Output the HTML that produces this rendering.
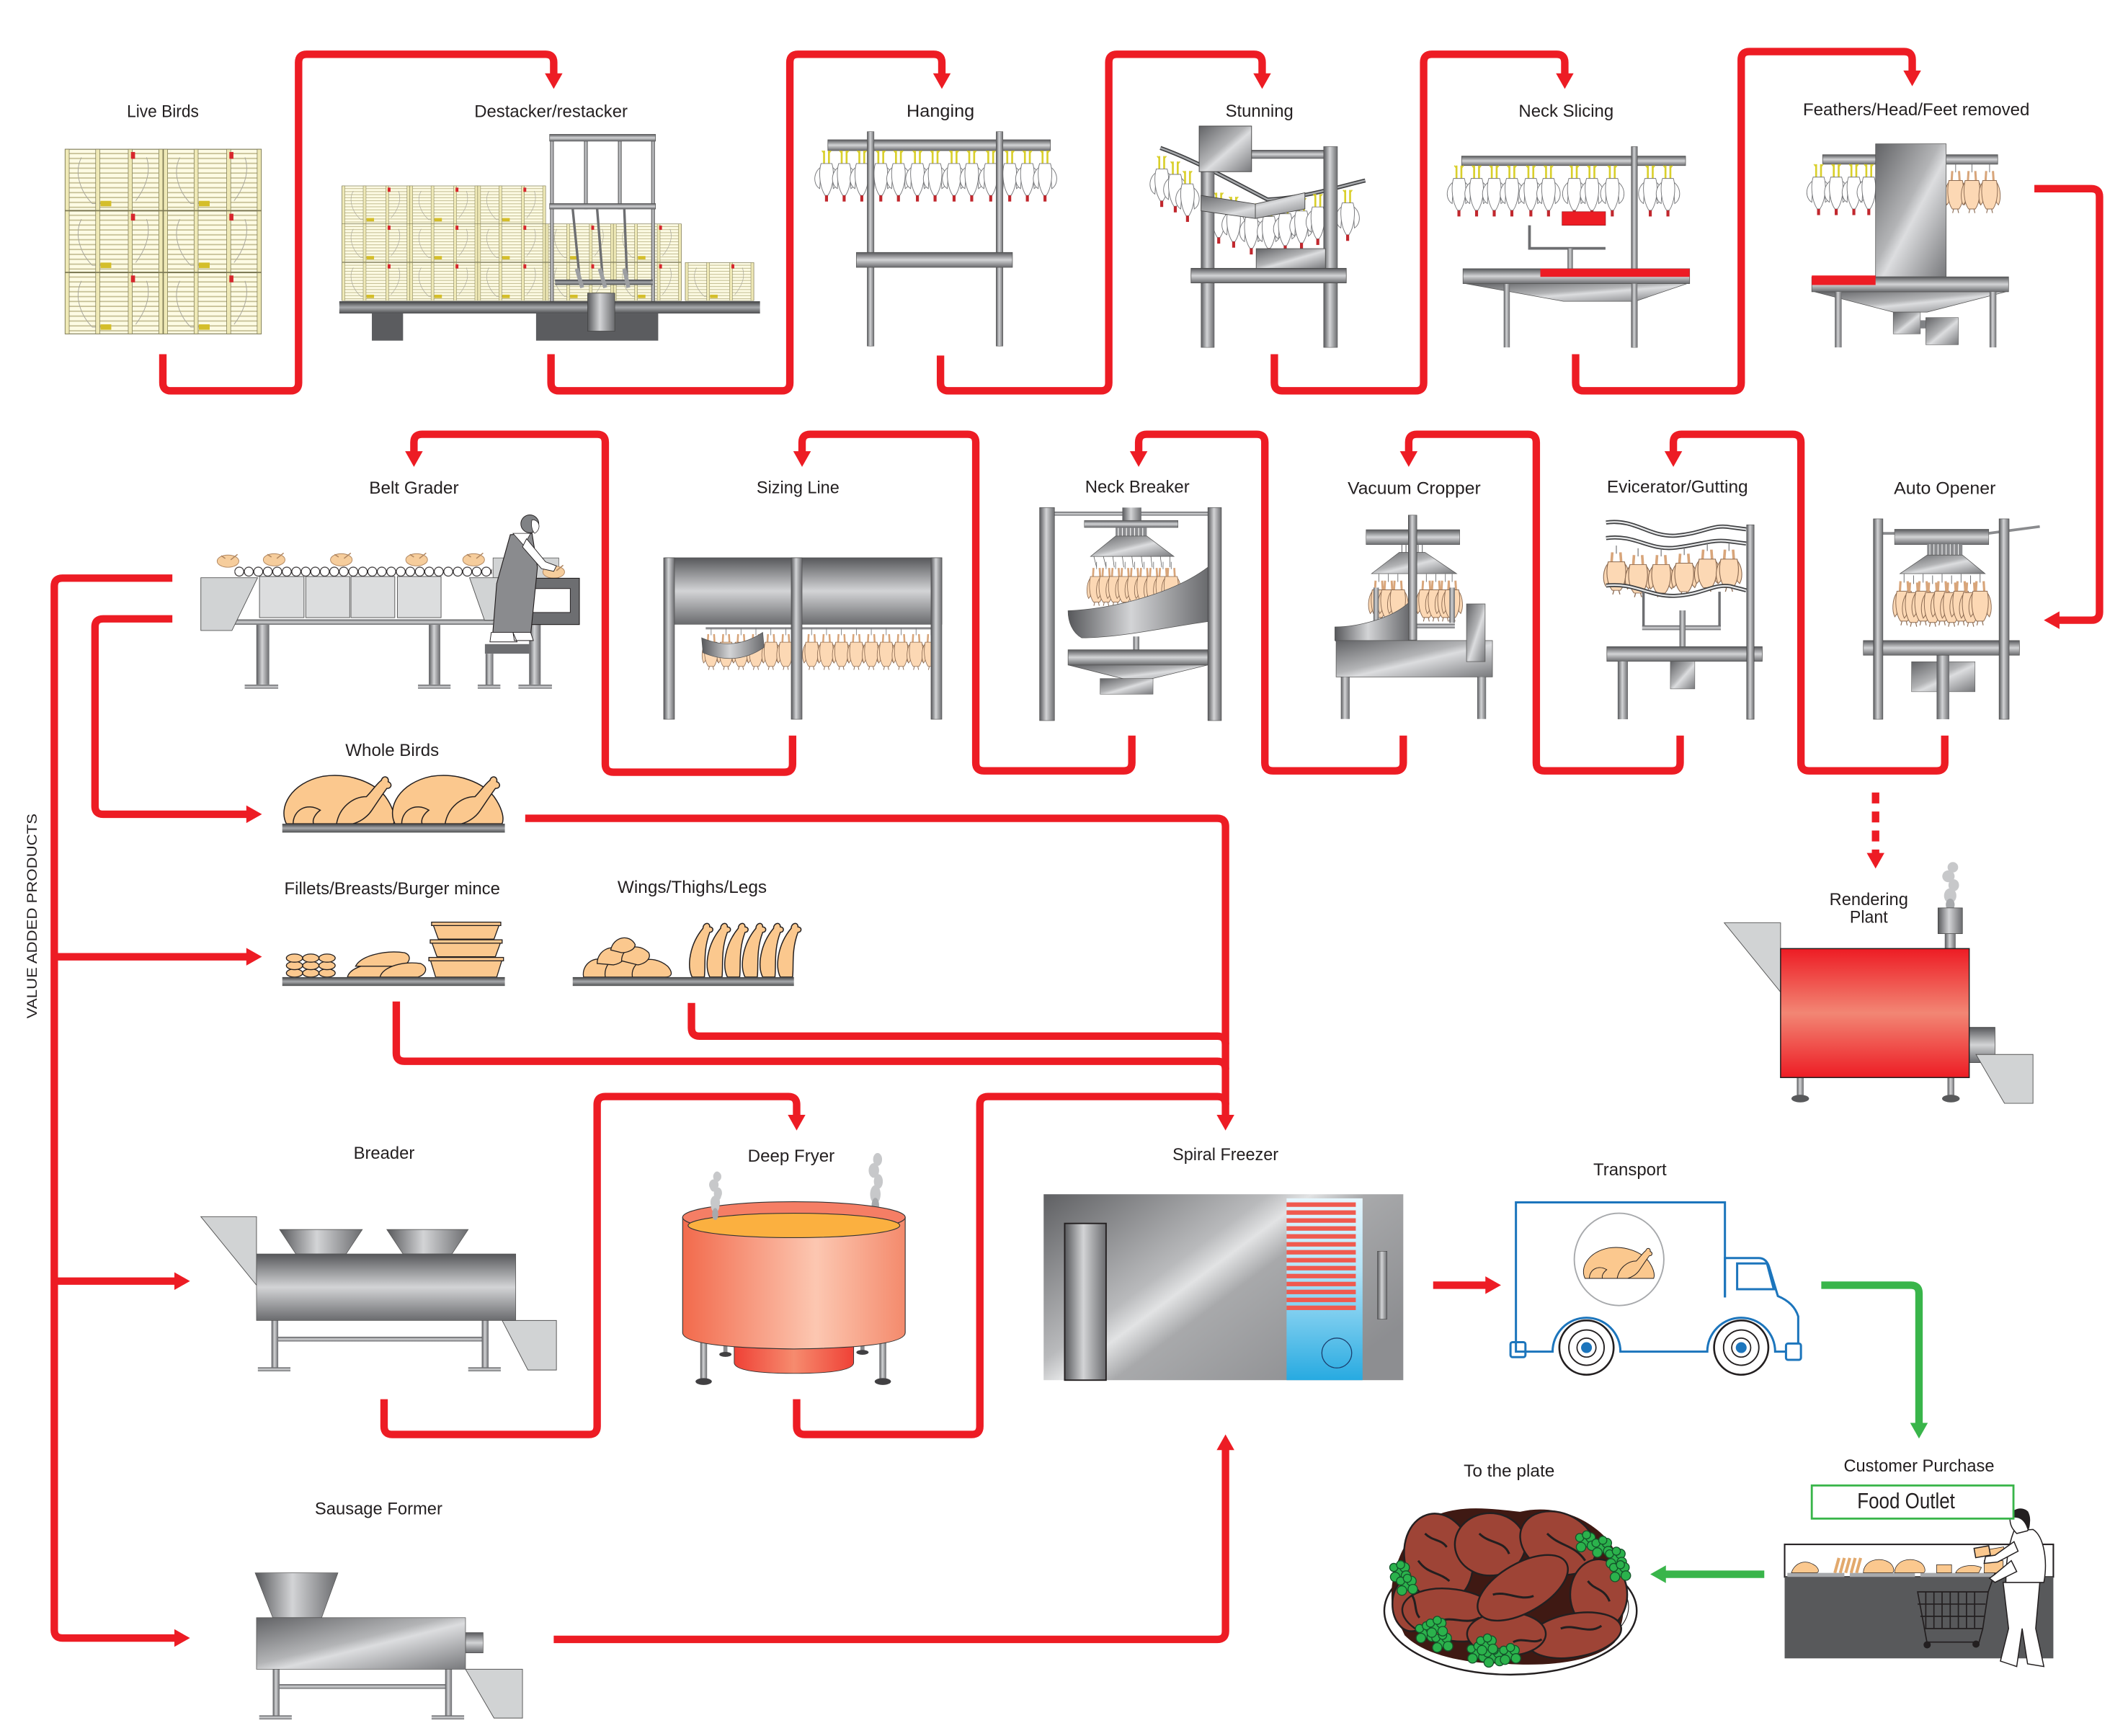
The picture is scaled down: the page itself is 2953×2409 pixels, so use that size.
<!DOCTYPE html>
<html><head><meta charset="utf-8"><style>
html,body{margin:0;padding:0;background:#fff;}
svg{display:block;}
text{font-family:"Liberation Sans",Arial,sans-serif;fill:#231f20;}
</style></head><body>
<svg xmlns="http://www.w3.org/2000/svg" width="2953" height="2409" viewBox="0 0 1568 1279.2" preserveAspectRatio="none">
<defs>
<linearGradient id="gV" x1="0" y1="0" x2="0" y2="1"><stop offset="0" stop-color="#57585b"/><stop offset=".5" stop-color="#d3d4d6"/><stop offset="1" stop-color="#6a6b6e"/></linearGradient>
<linearGradient id="gVd" x1="0" y1="0" x2="0" y2="1"><stop offset="0" stop-color="#3e3f41"/><stop offset=".5" stop-color="#a7a9ac"/><stop offset="1" stop-color="#4d4e50"/></linearGradient>
<linearGradient id="gH" x1="0" y1="0" x2="1" y2="0"><stop offset="0" stop-color="#57585b"/><stop offset=".45" stop-color="#d3d4d6"/><stop offset="1" stop-color="#6a6b6e"/></linearGradient>
<linearGradient id="gD" x1="0" y1="0" x2="1" y2="1"><stop offset="0" stop-color="#626366"/><stop offset=".45" stop-color="#b3b4b6"/><stop offset=".55" stop-color="#dcdddf"/><stop offset="1" stop-color="#78797c"/></linearGradient>
<linearGradient id="gF" x1="0" y1="0" x2="1" y2=".7"><stop offset="0" stop-color="#5f6063"/><stop offset=".42" stop-color="#b9babc"/><stop offset=".5" stop-color="#e2e3e4"/><stop offset=".6" stop-color="#a8a9ab"/><stop offset="1" stop-color="#8d8e91"/></linearGradient>
<linearGradient id="gRed" x1="0" y1="0" x2="0" y2="1"><stop offset="0" stop-color="#ed1c24"/><stop offset=".5" stop-color="#f28674"/><stop offset="1" stop-color="#ed1c24"/></linearGradient>
<linearGradient id="gFry" x1="0" y1="0" x2="1" y2="0"><stop offset="0" stop-color="#f26a4c"/><stop offset=".6" stop-color="#fcc7b1"/><stop offset="1" stop-color="#f48a6c"/></linearGradient>
<linearGradient id="gBowl" x1="0" y1="0" x2="1" y2="0"><stop offset="0" stop-color="#ef4136"/><stop offset=".5" stop-color="#f68b6e"/><stop offset="1" stop-color="#ef4136"/></linearGradient>
<linearGradient id="gBlue" x1="0" y1="0" x2="0" y2="1"><stop offset="0" stop-color="#e6f6fd"/><stop offset=".4" stop-color="#b3e4f8"/><stop offset="1" stop-color="#27aae1"/></linearGradient>
<pattern id="slat" patternUnits="userSpaceOnUse" width="72" height="3.6"><rect width="72" height="3.6" fill="#fdfbe4"/><rect y="2.7" width="72" height=".9" fill="#c4be93"/></pattern>
<pattern id="roll" patternUnits="userSpaceOnUse" x="172.8" y="417" width="7" height="9"><circle cx="3.5" cy="4.2" r="3.3" fill="#fff" stroke="#231f20" stroke-width=".6"/></pattern>

<g id="crate">
<rect width="72" height="45" fill="url(#slat)" stroke="#7d7a55" stroke-width=".6"/>
<path d="M12,6 C6,18 12,32 20,40 L27,40 M60,6 C64,18 58,30 52,38" fill="none" stroke="#a7a59a" stroke-width=".5"/>
<rect x="0" width="3" height="45" fill="#efe9b6" stroke="#7d7a55" stroke-width=".4"/>
<rect x="22.5" width="3" height="45" fill="#efe9b6" stroke="#7d7a55" stroke-width=".4"/>
<rect x="46.5" width="3" height="45" fill="#efe9b6" stroke="#7d7a55" stroke-width=".4"/>
<rect x="69" width="3" height="45" fill="#efe9b6" stroke="#7d7a55" stroke-width=".4"/>
<rect x="48.5" y="2" width="3" height="5" fill="#d7262d"/>
<rect x="26" y="38" width="8" height="4" fill="#d4be2a"/>
</g>

<g id="wc">
<path d="M-1.8,0V10M1.8,0V10" stroke="#d9cf2b" stroke-width="1.4"/>
<path d="M-1.8,2l-1.6,-2M1.8,2l1.6,-2" stroke="#d9cf2b" stroke-width=".8"/>
<path d="M-4,12 C-10,16 -10,25 -5,28 C-4.5,22 -4.5,17 -4,12Z M4,12 C10,16 10,25 5,28 C4.5,22 4.5,17 4,12Z" fill="#fff" stroke="#77787b" stroke-width=".5"/>
<path d="M-4,9.5 C-6,16 -5,27 -1,33 H1 C5,27 6,16 4,9.5Z" fill="#fff" stroke="#77787b" stroke-width=".5"/>
<rect x="-1.1" y="33" width="2.2" height="4.5" fill="#c1272d"/>
</g>

<g id="pc">
<path d="M0,0V6" stroke="#6d6e71" stroke-width=".5"/>
<path d="M-2.5,5 L-3,13 M2.5,5 L3,13" stroke="#d8a57a" stroke-width="1.6"/>
<path d="M-5,13 C-8.5,18 -8.5,26 -6.5,30 L-5,28Z M5,13 C8.5,18 8.5,26 6.5,30 L5,28Z" fill="#fcd8b4" stroke="#8c6b52" stroke-width=".5"/>
<path d="M-5,12 C-6.5,19 -6,28 -2.5,33 H2.5 C6,28 6.5,19 5,12Z" fill="#fcd8b4" stroke="#8c6b52" stroke-width=".5"/>
<path d="M-1.5,33 L-2.2,36 M1.5,33 L2.2,36" stroke="#8c6b52" stroke-width=".6"/>
</g>

<g id="mc">
<ellipse cx="0" cy="0" rx="8" ry="4.5" fill="#f6cd9c" stroke="#b08660" stroke-width=".5"/>
<path d="M2,-1 L7,-5 M-2,-2 L-5,-4" stroke="#b08660" stroke-width=".8"/>
</g>

<g id="rc" stroke="#231f20" stroke-width=".8" fill="#fbc88e">
<path d="M3,0 C-3,-12 6,-30 30,-35 C50,-38 68,-30 76,-20 C81,-13 84,-5 82,0Z"/>
<path d="M8,0 C8,-10 18,-16 28,-10 C24,-7 22,-3 23,0Z"/>
<path d="M40,0 C42,-12 52,-20 62,-20 C66,-24 70,-30 73,-32 C74,-36 79,-35 78,-31 C81,-30 81,-26 77,-26 C74,-22 70,-16 66,-10 C62,-4 56,-1 52,0Z"/>
</g>

<g id="dk"><path d="M0,0 C-4,-8 -2,-24 8,-36 C8,-40 13,-41 13,-37 C16,-37 16,-33 13,-33 C8,-20 10,-8 9,0Z" fill="#fbc88e" stroke="#231f20" stroke-width=".8"/></g>

<g id="smoke" fill="#c7c8ca">
<ellipse cx="0" cy="0" rx="3.5" ry="5"/><ellipse cx="2" cy="-7" rx="3" ry="4"/><ellipse cx="-1" cy="-13" rx="3.5" ry="4"/><ellipse cx="1.5" cy="-19" rx="3" ry="3.5"/><ellipse cx="0" cy="6" rx="2.5" ry="4" fill="#a7a9ac"/>
</g>

<g id="parsley" fill="#2bb24c" stroke="#14532a" stroke-width=".7">
<circle cx="0" cy="0" r="4"/><circle cx="4" cy="-3" r="3.5"/><circle cx="5" cy="3" r="3.5"/><circle cx="-3" cy="4" r="3.5"/><circle cx="-4" cy="-3" r="3"/><circle cx="1" cy="-5" r="3"/>
</g>
</defs>

<rect width="1568" height="1279.2" fill="#fff"/>

<!-- ============ LABELS ============ -->
<g font-size="12.8">
<text x="120" y="86.4" text-anchor="middle" textLength="53" lengthAdjust="spacingAndGlyphs">Live Birds</text>
<text x="406" y="86.4" text-anchor="middle" textLength="113" lengthAdjust="spacingAndGlyphs">Destacker/restacker</text>
<text x="693" y="86" text-anchor="middle" textLength="50" lengthAdjust="spacingAndGlyphs">Hanging</text>
<text x="928" y="86" text-anchor="middle" textLength="50" lengthAdjust="spacingAndGlyphs">Stunning</text>
<text x="1154" y="86" text-anchor="middle" textLength="70" lengthAdjust="spacingAndGlyphs">Neck Slicing</text>
<text x="1412" y="85" text-anchor="middle" textLength="167" lengthAdjust="spacingAndGlyphs">Feathers/Head/Feet removed</text>
<text x="305" y="363.8" text-anchor="middle" textLength="66" lengthAdjust="spacingAndGlyphs">Belt Grader</text>
<text x="588" y="363.5" text-anchor="middle" textLength="61" lengthAdjust="spacingAndGlyphs">Sizing Line</text>
<text x="838" y="363" text-anchor="middle" textLength="77" lengthAdjust="spacingAndGlyphs">Neck Breaker</text>
<text x="1042" y="364" text-anchor="middle" textLength="98" lengthAdjust="spacingAndGlyphs">Vacuum Cropper</text>
<text x="1236" y="363" text-anchor="middle" textLength="104" lengthAdjust="spacingAndGlyphs">Evicerator/Gutting</text>
<text x="1433" y="364" text-anchor="middle" textLength="75" lengthAdjust="spacingAndGlyphs">Auto Opener</text>
<text x="289" y="557" text-anchor="middle" textLength="69" lengthAdjust="spacingAndGlyphs">Whole Birds</text>
<text x="289" y="659" text-anchor="middle" textLength="159" lengthAdjust="spacingAndGlyphs">Fillets/Breasts/Burger mince</text>
<text x="510" y="658" text-anchor="middle" textLength="110" lengthAdjust="spacingAndGlyphs">Wings/Thighs/Legs</text>
<text x="1377" y="667" text-anchor="middle" textLength="58" lengthAdjust="spacingAndGlyphs">Rendering</text>
<text x="1377" y="680" text-anchor="middle" textLength="28" lengthAdjust="spacingAndGlyphs">Plant</text>
<text x="283" y="854" text-anchor="middle" textLength="45" lengthAdjust="spacingAndGlyphs">Breader</text>
<text x="583" y="856" text-anchor="middle" textLength="64" lengthAdjust="spacingAndGlyphs">Deep Fryer</text>
<text x="903" y="855" text-anchor="middle" textLength="78" lengthAdjust="spacingAndGlyphs">Spiral Freezer</text>
<text x="1201" y="866" text-anchor="middle" textLength="54" lengthAdjust="spacingAndGlyphs">Transport</text>
<text x="279" y="1116" text-anchor="middle" textLength="94" lengthAdjust="spacingAndGlyphs">Sausage Former</text>
<text x="1112" y="1088" text-anchor="middle" textLength="67" lengthAdjust="spacingAndGlyphs">To the plate</text>
<text x="1414" y="1084.3" text-anchor="middle" textLength="111" lengthAdjust="spacingAndGlyphs">Customer Purchase</text>
</g>
<text transform="translate(27,675) rotate(-90)" x="0" y="0" font-size="10.5" text-anchor="middle" textLength="151" lengthAdjust="spacingAndGlyphs">VALUE ADDED PRODUCTS</text>

<!-- ============ CONNECTORS ============ -->
<g fill="none" stroke="#ed1c24" stroke-width="5.5">
<path d="M120,261V282Q120,288 126,288H214Q220,288 220,282V46Q220,40 226,40H402Q408,40 408,46V55"/>
<path d="M406,261V282Q406,288 412,288H576Q582,288 582,282V46Q582,40 588,40H688Q694,40 694,46V55"/>
<path d="M693,262V282Q693,288 699,288H811Q817,288 817,282V46Q817,40 823,40H924Q930,40 930,46V55"/>
<path d="M939,261V282Q939,288 945,288H1043Q1049,288 1049,282V46Q1049,40 1055,40H1147Q1153,40 1153,46V55"/>
<path d="M1161,261V282Q1161,288 1167,288H1277Q1283,288 1283,282V44Q1283,38 1289,38H1403Q1409,38 1409,44V53"/>
<path d="M1499,139H1541Q1547,139 1547,145V451Q1547,457 1541,457H1517"/>
<path d="M1433,542V562Q1433,568 1427,568H1333Q1327,568 1327,562V326Q1327,320 1321,320H1239Q1233,320 1233,326V333"/>
<path d="M1238,542V562Q1238,568 1232,568H1138Q1132,568 1132,562V326Q1132,320 1126,320H1044Q1038,320 1038,326V333"/>
<path d="M1034,542V562Q1034,568 1028,568H938Q932,568 932,562V326Q932,320 926,320H845Q839,320 839,326V333"/>
<path d="M834,542V562Q834,568 828,568H725Q719,568 719,562V326Q719,320 713,320H597Q591,320 591,326V333"/>
<path d="M584,542V563Q584,569 578,569H452Q446,569 446,563V326Q446,320 440,320H311Q305,320 305,326V333"/>
<path d="M127,426H46Q40,426 40,432V1201Q40,1207 46,1207H129"/>
<path d="M40,705H182M40,944H129"/>
<path d="M127,456H76Q70,456 70,462V594Q70,600 76,600H182"/>
<path d="M387,603H897Q903,603 903,609V822"/>
<path d="M292,738V776Q292,782 298,782H897Q903,782 903,788"/>
<path d="M509.5,739V757.5Q509.5,763.5 515.5,763.5H897Q903,763.5 903,769.5"/>
<path d="M283,1031V1051Q283,1057 289,1057H434Q440,1057 440,1051V814Q440,808 446,808H581Q587,808 587,814V822"/>
<path d="M587,1031V1051Q587,1057 593,1057H716Q722,1057 722,1051V814Q722,808 728,808H897Q903,808 903,814"/>
<path d="M408,1208H897Q903,1208 903,1202V1068"/>
<path d="M1056,947H1095"/>
<path d="M1382,584V630" stroke-dasharray="8,6"/>
</g>
<g fill="#ed1c24">
<polygon points="401.5,54 414.5,54 408,65.5"/>
<polygon points="687.5,54 700.5,54 694,65.5"/>
<polygon points="923.5,54 936.5,54 930,65.5"/>
<polygon points="1146.5,54 1159.5,54 1153,65.5"/>
<polygon points="1402.5,52 1415.5,52 1409,63.5"/>
<polygon points="1517.5,450.5 1517.5,463.5 1506,457"/>
<polygon points="1226.5,332.5 1239.5,332.5 1233,344"/>
<polygon points="1031.5,332.5 1044.5,332.5 1038,344"/>
<polygon points="832.5,332.5 845.5,332.5 839,344"/>
<polygon points="584.5,332.5 597.5,332.5 591,344"/>
<polygon points="298.5,332.5 311.5,332.5 305,344"/>
<polygon points="181.5,593.5 181.5,606.5 193,600"/>
<polygon points="181.5,698.5 181.5,711.5 193,705"/>
<polygon points="128.5,937.5 128.5,950.5 140,944"/>
<polygon points="128.5,1200.5 128.5,1213.5 140,1207"/>
<polygon points="580.5,821.5 593.5,821.5 587,833"/>
<polygon points="896.5,821.5 909.5,821.5 903,833"/>
<polygon points="896.5,1068.5 909.5,1068.5 903,1057"/>
<polygon points="1094.5,940.5 1094.5,953.5 1106,947"/>
<polygon points="1375.5,628.5 1388.5,628.5 1382,640"/>
</g>
<g fill="none" stroke="#39b54a" stroke-width="5.5">
<path d="M1342,947H1408Q1414,947 1414,953V1049"/>
<path d="M1300,1160H1227"/>
</g>
<g fill="#39b54a">
<polygon points="1407.5,1048.5 1420.5,1048.5 1414,1060"/>
<polygon points="1227.5,1153.5 1227.5,1166.5 1216,1160"/>
</g>

<!-- ============ LIVE BIRDS ============ -->
<use href="#crate" x="48" y="110"/><use href="#crate" x="120.5" y="110"/>
<use href="#crate" x="48" y="155.5"/><use href="#crate" x="120.5" y="155.5"/>
<use href="#crate" x="48" y="201"/><use href="#crate" x="120.5" y="201"/>

<!-- ============ DESTACKER ============ -->
<g>
<use href="#crate" transform="translate(252,137) scale(.6944,.6222)"/>
<use href="#crate" transform="translate(302,137) scale(.6944,.6222)"/>
<use href="#crate" transform="translate(352,137) scale(.6944,.6222)"/>
<use href="#crate" transform="translate(252,165) scale(.6944,.6222)"/>
<use href="#crate" transform="translate(302,165) scale(.6944,.6222)"/>
<use href="#crate" transform="translate(352,165) scale(.6944,.6222)"/>
<use href="#crate" transform="translate(402,165) scale(.6944,.6222)"/>
<use href="#crate" transform="translate(452,165) scale(.6944,.6222)"/>
<use href="#crate" transform="translate(252,193.5) scale(.6944,.6222)"/>
<use href="#crate" transform="translate(302,193.5) scale(.6944,.6222)"/>
<use href="#crate" transform="translate(352,193.5) scale(.6944,.6222)"/>
<use href="#crate" transform="translate(402,193.5) scale(.6944,.6222)"/>
<use href="#crate" transform="translate(452,193.5) scale(.6944,.6222)"/>
<use href="#crate" transform="translate(505,193.5) scale(.7,.6222)"/>
<rect x="405.5" y="104" width="2.4" height="118" fill="url(#gH)" stroke="#555" stroke-width=".3"/>
<rect x="430.5" y="104" width="2.4" height="50" fill="url(#gH)" stroke="#555" stroke-width=".3"/>
<rect x="455.5" y="104" width="2.4" height="50" fill="url(#gH)" stroke="#555" stroke-width=".3"/>
<rect x="480" y="104" width="2.4" height="118" fill="url(#gH)" stroke="#555" stroke-width=".3"/>
<rect x="405" y="99" width="78" height="5" fill="url(#gV)" stroke="#555" stroke-width=".4"/>
<rect x="405" y="150" width="78" height="4" fill="url(#gV)" stroke="#555" stroke-width=".4"/>
<rect x="409" y="206" width="72" height="4" fill="url(#gVd)"/>
<path d="M422,154 L427,204 M440,154 L444,204 M460,154 L462,204" stroke="#6d6e71" stroke-width="1.8"/>
<path d="M425,198 L429,212 M442,198 L446,212 M460,198 L463,212" stroke="#9d9fa2" stroke-width="3"/>
<rect x="250" y="222" width="310" height="9" fill="url(#gVd)"/>
<rect x="274" y="231" width="23" height="20" fill="#5b5c5f"/>
<rect x="395" y="231" width="90" height="20" fill="#5b5c5f"/>
<rect x="433" y="216" width="20" height="28" fill="url(#gH)" stroke="#444" stroke-width=".4"/>
</g>

<!-- ============ HANGING ============ -->
<g>
<rect x="610" y="103" width="164" height="8" fill="url(#gV)" stroke="#555" stroke-width=".4"/>
<use href="#wc" x="609" y="111"/><use href="#wc" x="622" y="111"/><use href="#wc" x="635" y="111"/><use href="#wc" x="649" y="111"/><use href="#wc" x="662" y="111"/><use href="#wc" x="676" y="111"/><use href="#wc" x="689" y="111"/><use href="#wc" x="703" y="111"/><use href="#wc" x="716" y="111"/><use href="#wc" x="730" y="111"/><use href="#wc" x="744" y="111"/><use href="#wc" x="757" y="111"/><use href="#wc" x="770" y="111"/>
<rect x="639" y="97" width="5" height="158" fill="url(#gH)" stroke="#555" stroke-width=".3"/>
<rect x="734" y="97" width="5" height="158" fill="url(#gH)" stroke="#555" stroke-width=".3"/>
<rect x="631" y="186" width="115" height="11" fill="url(#gV)" stroke="#555" stroke-width=".4"/>
</g>

<!-- ============ STUNNING ============ -->
<g>
<path d="M855,109 C880,118 905,132 934,147 C960,146 985,138 1006,133" fill="none" stroke="#3e3f41" stroke-width="3"/>
<path d="M855,109 C880,118 905,132 934,147 C960,146 985,138 1006,133" fill="none" stroke="#a7a9ac" stroke-width="1.3"/>
<use href="#wc" x="856" y="115"/><use href="#wc" x="866" y="119"/><use href="#wc" x="875" y="126"/>
<use href="#wc" x="898" y="142"/><use href="#wc" x="909" y="145"/><use href="#wc" x="922" y="150"/><use href="#wc" x="935" y="150"/><use href="#wc" x="947" y="148"/><use href="#wc" x="959" y="146"/><use href="#wc" x="971" y="143"/><use href="#wc" x="993" y="140"/>
<rect x="885" y="126" width="9.7" height="130" fill="url(#gH)" stroke="#555" stroke-width=".3"/>
<rect x="975.3" y="108" width="10.2" height="148" fill="url(#gH)" stroke="#555" stroke-width=".3"/>
<rect x="922" y="110.6" width="53.3" height="6.2" fill="url(#gV)" stroke="#555" stroke-width=".3"/>
<rect x="883.6" y="92.9" width="38.6" height="33.6" fill="url(#gD)" stroke="#444" stroke-width=".5"/>
<polygon points="885,144 925,150.3 961.5,142 961.5,154 925,161 885,155.4" fill="url(#gD)" stroke="#444" stroke-width=".5"/>
<line x1="925" y1="150.3" x2="925" y2="161" stroke="#444" stroke-width=".5"/>
<rect x="925.6" y="183.2" width="51" height="14.7" fill="url(#gD)" stroke="#444" stroke-width=".4"/>
<rect x="877.6" y="197.7" width="114.4" height="10.8" fill="url(#gV)" stroke="#444" stroke-width=".4"/>
</g>

<!-- ============ NECK SLICING ============ -->
<g>
<rect x="1077" y="115" width="165" height="7" fill="url(#gV)" stroke="#555" stroke-width=".4"/>
<use href="#wc" x="1075" y="122"/><use href="#wc" x="1088" y="122"/><use href="#wc" x="1101" y="122"/><use href="#wc" x="1114" y="122"/><use href="#wc" x="1128" y="122"/><use href="#wc" x="1141" y="122"/><use href="#wc" x="1160" y="122"/><use href="#wc" x="1173" y="122"/><use href="#wc" x="1188" y="122"/><use href="#wc" x="1216" y="122"/><use href="#wc" x="1229" y="122"/>
<path d="M1127,166 V183 H1183" fill="none" stroke="#6d6e71" stroke-width="2"/>
<rect x="1155" y="183" width="4" height="15" fill="url(#gH)"/>
<rect x="1151" y="156" width="32" height="10" fill="#ed1c24" stroke="#9e1b20" stroke-width=".4"/>
<rect x="1202" y="108" width="4.5" height="148" fill="url(#gH)" stroke="#555" stroke-width=".3"/>
<polygon points="1080,209 1243,209 1205,222 1152,222" fill="url(#gD)" stroke="#555" stroke-width=".4"/>
<rect x="1108" y="209" width="4.5" height="47" fill="url(#gH)"/>
<rect x="1078" y="198" width="167" height="11" fill="url(#gV)" stroke="#555" stroke-width=".4"/>
<rect x="1135" y="198" width="110" height="6" fill="#ed1c24"/>
<rect x="1202" y="209" width="4.5" height="47" fill="url(#gH)"/>
</g>

<!-- ============ FEATHERS ============ -->
<g>
<rect x="1343" y="114" width="129" height="7" fill="url(#gV)" stroke="#555" stroke-width=".4"/>
<use href="#wc" x="1340" y="121"/><use href="#wc" x="1353" y="121"/><use href="#wc" x="1366" y="121"/><use href="#wc" x="1377" y="121"/>
<use href="#pc" x="1441" y="121"/><use href="#pc" x="1453" y="121"/><use href="#pc" x="1466" y="121"/>
<rect x="1382" y="106" width="52" height="98" fill="url(#gD)" stroke="#555" stroke-width=".4"/>
<polygon points="1337,215 1478,215 1420,230 1395,230" fill="url(#gD)" stroke="#555" stroke-width=".4"/>
<rect x="1335" y="204" width="145" height="11" fill="url(#gV)" stroke="#555" stroke-width=".4"/>
<rect x="1335" y="203" width="47" height="7" fill="#ed1c24"/>
<rect x="1352" y="215" width="5" height="41" fill="url(#gH)"/>
<rect x="1466" y="215" width="5" height="41" fill="url(#gH)"/>
<rect x="1395" y="230" width="20" height="16" fill="url(#gD)" stroke="#555" stroke-width=".3"/>
<rect x="1415" y="236" width="5" height="6" fill="#808285"/>
<rect x="1419" y="234" width="24" height="20" fill="url(#gD)" stroke="#555" stroke-width=".3"/>
</g>

<!-- ============ BELT GRADER ============ -->
<g>
<rect x="363.3" y="411.1" width="48.4" height="15.6" fill="#d1d3d4" stroke="#555" stroke-width=".4"/>
<rect x="172.8" y="417" width="189.6" height="8.4" fill="url(#roll)"/>
<use href="#mc" x="168" y="413.5"/><use href="#mc" x="202" y="412.5"/><use href="#mc" x="251.5" y="412.5"/><use href="#mc" x="307" y="412.5"/><use href="#mc" x="349" y="412.5"/><use href="#mc" x="408" y="421.5"/>
<rect x="171.8" y="456.4" width="191.5" height="4" fill="url(#gV)"/>
<polygon points="148,425.7 189.8,425.7 170.9,464.6 148,464.6" fill="#d1d3d4" stroke="#555" stroke-width=".5"/>
<g fill="#dcddde" stroke="#555" stroke-width=".5">
<rect x="191.2" y="424.8" width="32.8" height="30.3"/>
<rect x="225.3" y="424.8" width="32.4" height="30.3"/>
<rect x="258.6" y="424.8" width="32.3" height="30.3"/>
<rect x="292.8" y="424.8" width="32.2" height="30.3"/>
</g>
<polygon points="346,425.7 367,425.7 367,457 357,457" fill="#d1d3d4" stroke="#555" stroke-width=".5"/>
<rect x="188.9" y="460.4" width="9.5" height="44" fill="url(#gH)"/>
<rect x="180.3" y="504.5" width="24.7" height="3" fill="url(#gV)"/>
<rect x="316" y="460.4" width="8.4" height="44" fill="url(#gH)"/>
<rect x="308" y="504.5" width="24" height="3" fill="url(#gV)"/>
<rect x="389.9" y="460.4" width="8.5" height="44" fill="url(#gH)"/>
<rect x="382" y="504.5" width="24.7" height="3" fill="url(#gV)"/>
<rect x="357.3" y="474.6" width="32.6" height="7.1" fill="#6d6e71"/>
<rect x="357.8" y="481.7" width="5.7" height="22.8" fill="url(#gH)"/>
<rect x="352" y="504.5" width="16.7" height="3" fill="url(#gV)"/>
<rect x="381.9" y="426.1" width="45" height="34.1" fill="#6d6e71" stroke="#231f20" stroke-width=".6"/>
<rect x="389" y="433.7" width="31.2" height="17.6" fill="#fff" stroke="#231f20" stroke-width=".5"/>
<path d="M376,394 L392,393 L396,418 L391,468 L363,468 L366,430 Z" fill="#8a8b8e" stroke="#231f20" stroke-width=".6"/>
<path d="M378,393 L391,393 L386,402 Z" fill="#fff" stroke="#231f20" stroke-width=".4"/>
<path d="M388,397 L402,414 L410,417 L408,421 L399,419 L385,403Z" fill="#fff" stroke="#231f20" stroke-width=".5"/>
<circle cx="390.4" cy="386" r="6.6" fill="#808285" stroke="#231f20" stroke-width=".5"/>
<path d="M392,383 C398,383 399,390 394,393 C392,391 391,387 392,383Z" fill="#fff" stroke="#231f20" stroke-width=".4"/>
<path d="M362,466 L378,466 L381,473 L361,473Z M378,466 L391,466 L393,472 L379,472Z" fill="#fff" stroke="#231f20" stroke-width=".5"/>
</g>

<!-- ============ SIZING LINE ============ -->
<g>
<rect x="490" y="411" width="204" height="49" fill="url(#gV)" stroke="#555" stroke-width=".4"/>
<line x1="520" y1="463" x2="690" y2="463" stroke="#8a8b8e" stroke-width="1.6"/>
<use href="#pc" transform="translate(524,463) scale(.85)"/><use href="#pc" transform="translate(535,463) scale(.85)"/><use href="#pc" transform="translate(546,463) scale(.85)"/><use href="#pc" transform="translate(557,463) scale(.85)"/><use href="#pc" transform="translate(568,463) scale(.85)"/><use href="#pc" transform="translate(579,463) scale(.85)"/><use href="#pc" transform="translate(598,463) scale(.85)"/><use href="#pc" transform="translate(609,463) scale(.85)"/><use href="#pc" transform="translate(620,463) scale(.85)"/><use href="#pc" transform="translate(631,463) scale(.85)"/><use href="#pc" transform="translate(642,463) scale(.85)"/><use href="#pc" transform="translate(653,463) scale(.85)"/><use href="#pc" transform="translate(664,463) scale(.85)"/><use href="#pc" transform="translate(675,463) scale(.85)"/><use href="#pc" transform="translate(686,463) scale(.85)"/>
<path d="M517,470 C535,478 550,474 562,466 L563,477 C550,486 535,488 518,481Z" fill="url(#gH)" stroke="#555" stroke-width=".4"/>
<rect x="489" y="411" width="8" height="119" fill="url(#gH)" stroke="#444" stroke-width=".3"/>
<rect x="583" y="411" width="8" height="119" fill="url(#gH)" stroke="#444" stroke-width=".3"/>
<rect x="686" y="411" width="8" height="119" fill="url(#gH)" stroke="#444" stroke-width=".3"/>
</g>

<!-- ============ NECK BREAKER ============ -->
<g>
<rect x="776" y="377" width="114" height="3" fill="url(#gV)"/>
<rect x="827" y="374" width="14" height="9.5" fill="url(#gH)"/>
<rect x="799" y="383.5" width="69" height="5.2" fill="url(#gV)" stroke="#555" stroke-width=".3"/>
<rect x="822" y="388.7" width="23" height="6.5" fill="#8a8b8e"/>
<path d="M824,389V395M827,389V395M830,389V395M833,389V395M836,389V395M839,389V395M842,389V395" stroke="#fff" stroke-width=".6"/>
<polygon points="822,395 845,395 865,410 803.6,410" fill="url(#gD)" stroke="#555" stroke-width=".4"/>
<path d="M806,410L808,418M813,410L815,418M820,410L821,418M827,410L828,418M834,410L835,418M841,410L842,418M848,410L849,418M855,410L856,418M862,410L862,418" stroke="#555" stroke-width=".4"/>
<use href="#pc" transform="translate(808,414) scale(.9)"/><use href="#pc" transform="translate(815,414) scale(.9)"/><use href="#pc" transform="translate(822,414) scale(.9)"/><use href="#pc" transform="translate(829,414) scale(.9)"/><use href="#pc" transform="translate(836,414) scale(.9)"/><use href="#pc" transform="translate(843,414) scale(.9)"/><use href="#pc" transform="translate(850,414) scale(.9)"/><use href="#pc" transform="translate(857,414) scale(.9)"/><use href="#pc" transform="translate(863,414) scale(.9)"/>
<path d="M787,450 C820,449 865,437 890,418 L890,458 C860,462 825,470 797,470 C790,466 787,458 787,450Z" fill="url(#gH)" stroke="#555" stroke-width=".4"/>
<rect x="835" y="469" width="4.5" height="10" fill="url(#gH)"/>
<polygon points="787,490 890,490 838,502.7" fill="url(#gD)" stroke="#555" stroke-width=".4"/>
<rect x="810.6" y="500" width="39" height="11.5" fill="url(#gD)" stroke="#555" stroke-width=".3"/>
<rect x="787" y="478.8" width="103" height="11.2" fill="url(#gV)" stroke="#555" stroke-width=".4"/>
<rect x="766" y="374" width="11" height="157" fill="url(#gH)" stroke="#444" stroke-width=".3"/>
<rect x="890" y="374" width="10" height="157" fill="url(#gH)" stroke="#444" stroke-width=".3"/>
</g>

<!-- ============ VACUUM CROPPER ============ -->
<g>
<rect x="1006.6" y="390.3" width="69" height="11" fill="url(#gV)" stroke="#555" stroke-width=".3"/>
<path d="M1033,401V407M1036,401V407M1045,401V407M1048,401V407" stroke="#6d6e71" stroke-width=".6"/>
<polygon points="1031,407 1050,407 1073.3,422.7 1010.6,422.7" fill="url(#gD)" stroke="#555" stroke-width=".4"/>
<use href="#pc" transform="translate(1016,423) scale(.97)"/><use href="#pc" transform="translate(1023,423) scale(.97)"/><use href="#pc" transform="translate(1030,423) scale(.97)"/><use href="#pc" transform="translate(1051,423) scale(.97)"/><use href="#pc" transform="translate(1058,423) scale(.97)"/><use href="#pc" transform="translate(1065,423) scale(.97)"/><use href="#pc" transform="translate(1070,423) scale(.97)"/>
<rect x="1012" y="433" width="4" height="26" fill="url(#gH)"/>
<rect x="1068" y="433" width="4" height="26" fill="url(#gH)"/>
<rect x="1044" y="459.6" width="28" height="3.4" fill="url(#gV)"/>
<rect x="1037.7" y="379.6" width="6.3" height="92" fill="url(#gH)" stroke="#444" stroke-width=".3"/>
<path d="M983.6,462 C1000,462 1025,456 1037.8,444.3 L1037.8,477 C1025,483 1000,483 983.6,472 Z" fill="url(#gH)" stroke="#555" stroke-width=".4"/>
<rect x="984.5" y="472" width="115.2" height="26.8" fill="url(#gD)" stroke="#555" stroke-width=".4"/>
<rect x="1080.6" y="445" width="13.7" height="42.5" fill="url(#gD)" stroke="#555" stroke-width=".4"/>
<rect x="988" y="498.8" width="6.5" height="31" fill="url(#gH)"/>
<rect x="1088.5" y="498.8" width="6.5" height="31" fill="url(#gH)"/>
</g>

<!-- ============ EVISCERATOR ============ -->
<g>
<g fill="none">
<path d="M1183.4,385 C1205,382 1215,396 1235,394.7 C1255,393 1262,386 1275,388.5 L1286.6,390" stroke="#3e3f41" stroke-width="3"/>
<path d="M1183.4,385 C1205,382 1215,396 1235,394.7 C1255,393 1262,386 1275,388.5 L1286.6,390" stroke="#e6e7e8" stroke-width="1.2"/>
<path d="M1183.4,396.5 C1205,393.5 1215,406 1235,403.5 C1255,401 1262,397 1275,399 L1286.6,400.5" stroke="#3e3f41" stroke-width="3"/>
<path d="M1183.4,396.5 C1205,393.5 1215,406 1235,403.5 C1255,401 1262,397 1275,399 L1286.6,400.5" stroke="#e6e7e8" stroke-width="1.2"/>
</g>
<use href="#pc" transform="translate(1191,402) scale(1.2,1)"/><use href="#pc" transform="translate(1207,404) scale(1.2,1)"/><use href="#pc" transform="translate(1224,404) scale(1.2,1)"/><use href="#pc" transform="translate(1241,403) scale(1.2,1)"/><use href="#pc" transform="translate(1258,400) scale(1.2,1)"/><use href="#pc" transform="translate(1274,400) scale(1.2,1)"/>
<g fill="none">
<path d="M1183.4,431.5 C1205,429 1215,440 1235,439 C1255,438 1262,430 1275,432 L1286.6,435" stroke="#3e3f41" stroke-width="3"/>
<path d="M1183.4,431.5 C1205,429 1215,440 1235,439 C1255,438 1262,430 1275,432 L1286.6,435" stroke="#e6e7e8" stroke-width="1.2"/>
</g>
<path d="M1211,436V461M1267,436V461" stroke="#6d6e71" stroke-width="1.8"/>
<rect x="1210" y="460.8" width="58" height="3.5" fill="url(#gV)"/>
<rect x="1237.5" y="449.8" width="4.5" height="26.5" fill="url(#gH)"/>
<rect x="1184" y="476.5" width="114.5" height="10.8" fill="url(#gV)" stroke="#555" stroke-width=".4"/>
<rect x="1230.8" y="487.3" width="18" height="20.3" fill="url(#gD)" stroke="#555" stroke-width=".3"/>
<rect x="1192" y="487.3" width="7.5" height="42.7" fill="url(#gH)"/>
<rect x="1287" y="386.7" width="5.5" height="143.3" fill="url(#gH)" stroke="#444" stroke-width=".3"/>
</g>

<!-- ============ AUTO OPENER ============ -->
<g>
<path d="M1387,393 L1465,393 L1503,388" fill="none" stroke="#8a8b8e" stroke-width="2"/>
<rect x="1396" y="390" width="69.4" height="11.3" fill="url(#gV)" stroke="#555" stroke-width=".3"/>
<rect x="1420" y="401" width="26" height="8" fill="#8a8b8e"/>
<path d="M1422,401V409M1425,401V409M1428,401V409M1431,401V409M1434,401V409M1437,401V409M1440,401V409M1443,401V409" stroke="#fff" stroke-width=".5"/>
<polygon points="1420,409 1446,409 1462.7,422.7 1400,422.7" fill="url(#gD)" stroke="#555" stroke-width=".4"/>
<use href="#pc" transform="translate(1403,423) scale(1.05)"/><use href="#pc" transform="translate(1410,424) scale(1.05)"/><use href="#pc" transform="translate(1417,423) scale(1.05)"/><use href="#pc" transform="translate(1424,424) scale(1.05)"/><use href="#pc" transform="translate(1431,423) scale(1.05)"/><use href="#pc" transform="translate(1438,424) scale(1.05)"/><use href="#pc" transform="translate(1445,423) scale(1.05)"/><use href="#pc" transform="translate(1452,424) scale(1.05)"/><use href="#pc" transform="translate(1459,423) scale(1.05)"/>
<rect x="1408.5" y="487.6" width="46.8" height="22.1" fill="url(#gD)" stroke="#555" stroke-width=".3"/>
<rect x="1427" y="482" width="9.3" height="48" fill="url(#gH)"/>
<rect x="1373" y="472" width="115" height="10.8" fill="url(#gV)" stroke="#555" stroke-width=".4"/>
<rect x="1380.4" y="382.3" width="7" height="147.7" fill="url(#gH)" stroke="#444" stroke-width=".3"/>
<rect x="1473" y="382.3" width="7.4" height="147.7" fill="url(#gH)" stroke="#444" stroke-width=".3"/>
</g>

<!-- ============ RENDERING PLANT ============ -->
<g>
<use href="#smoke" transform="translate(1437,660) scale(1.3,1.1)"/>
<polygon points="1270.5,680 1312,680 1312,731" fill="#d1d3d4" stroke="#555" stroke-width=".5"/>
<rect x="1433" y="688" width="8" height="11" fill="url(#gH)"/>
<rect x="1428" y="669" width="18" height="19" fill="url(#gH)" stroke="#444" stroke-width=".4"/>
<rect x="1451" y="757" width="19" height="26" fill="url(#gV)" stroke="#444" stroke-width=".4"/>
<polygon points="1456,777 1498,777 1498,813 1477,813" fill="#d1d3d4" stroke="#555" stroke-width=".5"/>
<rect x="1324" y="794" width="5" height="14" fill="url(#gH)"/>
<rect x="1435" y="794" width="5" height="14" fill="url(#gH)"/>
<ellipse cx="1326.5" cy="809.5" rx="6.5" ry="2.8" fill="#58595b"/>
<ellipse cx="1437.5" cy="809.5" rx="6.5" ry="2.8" fill="#58595b"/>
<rect x="1312" y="699" width="139" height="95" fill="url(#gRed)" stroke="#231f20" stroke-width=".8"/>
</g>

<!-- ============ WHOLE BIRDS ============ -->
<use href="#rc" x="208" y="607"/>
<use href="#rc" x="288" y="607"/>
<rect x="208" y="607" width="164" height="6.5" fill="url(#gVd)"/>

<!-- ============ FILLETS ============ -->
<g stroke="#231f20" stroke-width=".7" fill="#fbc88e">
<ellipse cx="217" cy="717" rx="6" ry="3"/><ellipse cx="229" cy="717" rx="6" ry="3"/><ellipse cx="241" cy="717" rx="6" ry="3"/>
<ellipse cx="217" cy="711.5" rx="6" ry="3"/><ellipse cx="229" cy="711.5" rx="6" ry="3"/><ellipse cx="241" cy="711.5" rx="6" ry="3"/>
<ellipse cx="217" cy="706" rx="6" ry="3"/><ellipse cx="229" cy="706" rx="6" ry="3"/><ellipse cx="241" cy="706" rx="6" ry="3"/>
<path d="M256,720 C258,712 275,708 292,710 C298,712 296,718 290,720Z"/>
<path d="M262,712 C266,704 284,700 298,702 C304,704 302,710 296,712Z"/>
<path d="M280,720 C282,712 298,708 310,710 C316,713 314,718 308,720Z"/>
<path d="M317,707 H370 L366,720 H321Z"/><rect x="316" y="705.5" width="55" height="2.5"/>
<path d="M318,694 H369 L365,705 H322Z"/><rect x="317" y="692.5" width="53" height="2.5"/>
<path d="M319,681 H368 L364,692 H323Z"/><rect x="318" y="679.5" width="51" height="2.5"/>
</g>
<rect x="208" y="720" width="164" height="6.5" fill="url(#gVd)"/>

<!-- ============ WINGS ============ -->
<g stroke="#231f20" stroke-width=".7" fill="#fbc88e">
<path d="M430,720 C428,710 440,702 448,710 C452,716 450,720 446,720Z"/>
<path d="M446,720 C444,708 458,700 468,710 C472,716 470,720 466,720Z"/>
<path d="M466,720 C464,708 480,702 492,712 C497,718 494,720 490,720Z"/>
<path d="M440,710 C440,700 452,694 460,702 C462,706 458,710 452,711Z"/>
<path d="M458,708 C458,698 470,694 478,702 C480,706 476,710 470,711Z"/>
<path d="M450,700 C452,690 464,688 468,696 C468,700 462,702 458,702Z"/>
</g>
<use href="#dk" x="510" y="720"/><use href="#dk" x="523" y="720"/><use href="#dk" x="536" y="720"/><use href="#dk" x="549" y="720"/><use href="#dk" x="562" y="720"/><use href="#dk" x="575" y="720"/>
<rect x="422" y="720" width="163" height="6.5" fill="url(#gVd)"/>

<!-- ============ BREADER ============ -->
<g>
<polygon points="148,896.5 189,896.5 189,947" fill="#d1d3d4" stroke="#555" stroke-width=".5"/>
<polygon points="206,906 267,906 255,924 218,924" fill="url(#gH)" stroke="#555" stroke-width=".4"/>
<polygon points="285,906 345,906 333,924 297,924" fill="url(#gH)" stroke="#555" stroke-width=".4"/>
<polygon points="370,973 410,973 410,1009.5 389,1009.5" fill="#d1d3d4" stroke="#555" stroke-width=".5"/>
<rect x="204" y="985" width="153" height="3.5" fill="url(#gV)"/>
<rect x="200" y="973" width="5" height="35" fill="url(#gH)"/>
<rect x="355" y="973" width="5" height="35" fill="url(#gH)"/>
<rect x="190" y="1007.5" width="24" height="3" fill="url(#gV)"/>
<rect x="345" y="1007.5" width="24" height="3" fill="url(#gV)"/>
<rect x="189" y="924" width="191" height="49" fill="url(#gV)" stroke="#555" stroke-width=".4"/>
</g>

<!-- ============ DEEP FRYER ============ -->
<g>
<use href="#smoke" x="527" y="886"/>
<use href="#smoke" transform="translate(645,880) scale(1.1,1.35)"/>
<rect x="516" y="985" width="5" height="32" fill="url(#gH)"/>
<rect x="648" y="985" width="5" height="32" fill="url(#gH)"/>
<ellipse cx="518.5" cy="1018" rx="6" ry="2.5" fill="#414042"/>
<ellipse cx="650.5" cy="1018" rx="6" ry="2.5" fill="#414042"/>
<rect x="533" y="990" width="3" height="7" fill="#8a8b8e"/><ellipse cx="534.5" cy="998" rx="4.5" ry="1.8" fill="#414042"/>
<rect x="634" y="990" width="3" height="6" fill="#8a8b8e"/><ellipse cx="635.5" cy="996.5" rx="4.5" ry="1.8" fill="#414042"/>
<path d="M541,992 H629 V1004 Q629,1012 585,1012 Q541,1012 541,1004Z" fill="url(#gBowl)" stroke="#333" stroke-width=".5"/>
<path d="M503,897 V982 Q503,993 585,994 Q667,993 667,982 V897Z" fill="url(#gFry)" stroke="#333" stroke-width=".6"/>
<ellipse cx="585" cy="897" rx="82" ry="11.5" fill="#f57e65" stroke="#333" stroke-width=".6"/>
<ellipse cx="585" cy="903" rx="78" ry="9" fill="#fbb040" stroke="#333" stroke-width=".6"/>
<use href="#smoke" transform="translate(527,888) scale(.9,1.1)"/>
</g>

<!-- ============ SPIRAL FREEZER ============ -->
<g>
<rect x="769" y="880" width="265" height="137" fill="url(#gF)"/>
<rect x="948" y="883" width="56" height="134" fill="url(#gBlue)"/>
<g fill="#f05a4f">
<rect x="948" y="886" width="51" height="3.3"/><rect x="948" y="891.85" width="51" height="3.3"/><rect x="948" y="897.7" width="51" height="3.3"/><rect x="948" y="903.55" width="51" height="3.3"/><rect x="948" y="909.4" width="51" height="3.3"/><rect x="948" y="915.25" width="51" height="3.3"/><rect x="948" y="921.1" width="51" height="3.3"/><rect x="948" y="926.95" width="51" height="3.3"/><rect x="948" y="932.8" width="51" height="3.3"/><rect x="948" y="938.65" width="51" height="3.3"/><rect x="948" y="944.5" width="51" height="3.3"/><rect x="948" y="950.35" width="51" height="3.3"/><rect x="948" y="956.2" width="51" height="3.3"/><rect x="948" y="962.05" width="51" height="3.3"/>
</g>
<rect x="784.5" y="901.5" width="30.5" height="115.5" fill="url(#gH)" stroke="#231f20" stroke-width="1"/>
<rect x="1015" y="922" width="7" height="50" fill="url(#gH)" stroke="#444" stroke-width=".3"/>
<circle cx="985" cy="997" r="11" fill="none" stroke="#1c3f6e" stroke-width=".7"/>
</g>

<!-- ============ SAUSAGE FORMER ============ -->
<g>
<polygon points="188,1159 249,1159 237,1192 201,1192" fill="url(#gH)" stroke="#555" stroke-width=".4"/>
<rect x="343" y="1203" width="13" height="15" fill="url(#gV)" stroke="#444" stroke-width=".3"/>
<polygon points="343,1230 385,1230 385,1266 364,1266" fill="#d1d3d4" stroke="#555" stroke-width=".5"/>
<rect x="205" y="1241" width="125" height="3.5" fill="url(#gV)"/>
<rect x="201" y="1230" width="5" height="35" fill="url(#gH)"/>
<rect x="328" y="1230" width="5" height="35" fill="url(#gH)"/>
<rect x="191" y="1264" width="24" height="3" fill="url(#gV)"/>
<rect x="318" y="1264" width="24" height="3" fill="url(#gV)"/>
<rect x="189" y="1192" width="154" height="38" fill="url(#gD)" stroke="#555" stroke-width=".4"/>
</g>

<!-- ============ TRUCK ============ -->
<g fill="none" stroke="#1c75bc" stroke-width="1.6">
<path d="M1124,996 H1117 V886 H1271 V956"/>
<path d="M1271,956 V927 H1296 Q1302,927 1304,935 L1310,955 Q1322,960 1325,970 V990"/>
<path d="M1124,996 H1144 A25,25 0 0 1 1194,996 H1258 A25,25 0 0 1 1308,996 H1316"/>
<path d="M1280,931 H1302 L1307,950 H1280Z"/>
<rect x="1113" y="989" width="11" height="11" rx="1.5"/>
<rect x="1316" y="990" width="11" height="12" rx="1.5"/>
</g>
<ellipse cx="1193" cy="928" rx="33" ry="34" fill="#fff" stroke="#a7a9ac" stroke-width="1"/>
<use href="#rc" transform="translate(1166,942) scale(.64)"/>
<g>
<circle cx="1169" cy="993" r="20" fill="#fff" stroke="#231f20" stroke-width="1.4"/>
<circle cx="1169" cy="993" r="13" fill="#fff" stroke="#231f20" stroke-width="1"/>
<circle cx="1169" cy="993" r="7" fill="#fff" stroke="#231f20" stroke-width=".9"/>
<circle cx="1169" cy="993" r="4" fill="#1c75bc"/>
<circle cx="1283" cy="993" r="20" fill="#fff" stroke="#231f20" stroke-width="1.4"/>
<circle cx="1283" cy="993" r="13" fill="#fff" stroke="#231f20" stroke-width="1"/>
<circle cx="1283" cy="993" r="7" fill="#fff" stroke="#231f20" stroke-width=".9"/>
<circle cx="1283" cy="993" r="4" fill="#1c75bc"/>
</g>

<!-- ============ PLATE ============ -->
<g>
<ellipse cx="1113" cy="1187" rx="93" ry="47" fill="#fff" stroke="#231f20" stroke-width="1.3"/>
<ellipse cx="1113" cy="1184" rx="87" ry="41" fill="none" stroke="#231f20" stroke-width=".6"/>
<path d="M1026,1185 C1022,1160 1035,1130 1055,1118 C1075,1108 1100,1112 1120,1114 C1145,1108 1170,1118 1185,1135 C1200,1155 1200,1190 1190,1210 C1175,1225 1140,1228 1110,1226 C1080,1226 1050,1220 1035,1205 Z" fill="#3f1913"/>
<g fill="#9e4436" stroke="#231f20" stroke-width="1.3">
<ellipse cx="1040" cy="1182" rx="14" ry="20"/>
<ellipse cx="1060" cy="1148" rx="25" ry="33" transform="rotate(-12 1060 1148)"/>
<ellipse cx="1098" cy="1138" rx="26" ry="23"/>
<ellipse cx="1148" cy="1137" rx="29" ry="22" transform="rotate(25 1148 1137)"/>
<ellipse cx="1178" cy="1175" rx="21" ry="26"/>
<ellipse cx="1070" cy="1190" rx="37" ry="19" transform="rotate(8 1070 1190)"/>
<ellipse cx="1160" cy="1205" rx="35" ry="16" transform="rotate(-10 1160 1205)"/>
<ellipse cx="1110" cy="1204" rx="29" ry="16"/>
<ellipse cx="1122" cy="1170" rx="37" ry="18" transform="rotate(-30 1122 1170)"/>
</g>
<path d="M1045,1150 C1052,1160 1060,1158 1068,1165 M1090,1130 C1098,1138 1108,1135 1112,1145 M1140,1130 C1150,1140 1160,1138 1168,1150 M1100,1175 C1110,1172 1120,1180 1130,1176 M1060,1195 C1070,1190 1080,1198 1090,1192 M1150,1200 C1160,1196 1170,1205 1180,1198 M1170,1165 C1175,1172 1182,1170 1186,1180 M1050,1130 C1056,1136 1062,1134 1066,1140 M1115,1210 C1122,1206 1130,1212 1136,1208 M1040,1175 C1044,1180 1042,1188 1046,1192" fill="none" stroke="#231f20" stroke-width="1.6"/>
<use href="#parsley" x="1031" y="1158"/><use href="#parsley" x="1036" y="1168"/>
<use href="#parsley" x="1050" y="1203"/><use href="#parsley" x="1062" y="1210"/><use href="#parsley" x="1058" y="1199"/>
<use href="#parsley" x="1088" y="1218"/><use href="#parsley" x="1100" y="1221"/><use href="#parsley" x="1112" y="1219"/><use href="#parsley" x="1095" y="1212"/>
<use href="#parsley" x="1168" y="1136"/><use href="#parsley" x="1180" y="1140"/><use href="#parsley" x="1190" y="1148"/><use href="#parsley" x="1193" y="1158"/>
</g>

<!-- ============ FOOD OUTLET ============ -->
<g>
<rect x="1315" y="1138" width="198" height="24" fill="#fff" stroke="#231f20" stroke-width="1.1"/>
<rect x="1315" y="1162" width="198" height="60" fill="#58595b"/>
<rect x="1317" y="1159" width="42" height="3" fill="#a7a9ac"/><rect x="1363" y="1159" width="48" height="3" fill="#a7a9ac"/><rect x="1415" y="1159" width="62" height="3" fill="#a7a9ac"/>
<g fill="#fbc88e" stroke="#231f20" stroke-width=".4">
<path d="M1320,1159 C1322,1152 1330,1148 1338,1154 C1341,1157 1340,1159 1338,1159Z"/>
<path d="M1352,1159 L1355,1148 M1356,1159 L1359,1148 M1360,1159 L1363,1148 M1364,1159 L1367,1148 M1368,1159 L1371,1148" stroke-width="2.2" stroke="#e2a96d"/>
<path d="M1373,1159 C1373,1150 1385,1146 1393,1152 C1396,1155 1396,1159 1394,1159Z"/>
<path d="M1396,1159 C1396,1150 1408,1146 1416,1152 C1419,1155 1419,1159 1417,1159Z"/>
<rect x="1427" y="1153" width="11" height="6"/>
<path d="M1441,1159 C1443,1154 1452,1152 1460,1155 L1458,1159Z"/>
<rect x="1462" y="1150" width="14" height="9"/>
<rect x="1463" y="1141" width="14" height="7" transform="rotate(-10 1470 1144)"/>
</g>
<g fill="none" stroke="#231f20" stroke-width=".9">
<path d="M1413,1173 H1465 L1461,1200 H1418Z"/>
<path d="M1419,1173V1200M1425,1173V1200M1431,1173V1200M1437,1173V1200M1443,1173V1200M1449,1173V1200M1455,1173V1200M1413,1182H1463M1415,1191H1462"/>
<path d="M1465,1173 L1470,1159 M1461,1200 L1458,1211 M1418,1200 L1420,1211 M1420,1210 H1458"/>
<circle cx="1420" cy="1212" r="2.2" fill="#231f20"/><circle cx="1456" cy="1211.5" r="2.2" fill="#231f20"/>
</g>
<g fill="#fff" stroke="#231f20" stroke-width=".8">
<path d="M1476,1166 L1480,1200 L1474,1224 L1486,1228 L1490,1200 L1494,1226 L1506,1228 L1500,1200 L1503,1166Z"/>
<path d="M1484,1128 L1498,1127 C1506,1132 1509,1150 1506,1166 L1478,1166 C1478,1150 1480,1138 1484,1128Z"/>
<path d="M1484,1136 L1470,1146 L1463,1147 L1462,1152 L1472,1151 L1487,1143Z"/>
<path d="M1482,1150 L1470,1160 L1466,1163 L1470,1166 L1486,1158Z"/>
<rect x="1455" y="1140" width="11" height="7" fill="#fbc88e" transform="rotate(-10 1460 1143)"/>
<path d="M1481,1119 C1481,1113 1487,1111 1492,1113 C1496,1116 1496,1124 1494,1128 L1486,1130 C1483,1127 1481,1124 1481,1119Z"/>
<path d="M1482,1118 C1482,1112 1490,1110 1494,1114 C1496,1118 1496,1122 1494,1126 C1492,1120 1488,1117 1482,1118Z" fill="#231f20"/>
</g>
<rect x="1335" y="1094.6" width="148.6" height="24.4" fill="#fff" stroke="#39b54a" stroke-width="1.5"/>
<text x="1404.5" y="1111.3" font-size="16" text-anchor="middle" textLength="72" lengthAdjust="spacingAndGlyphs">Food Outlet</text>
</g>

</svg>
</body></html>
